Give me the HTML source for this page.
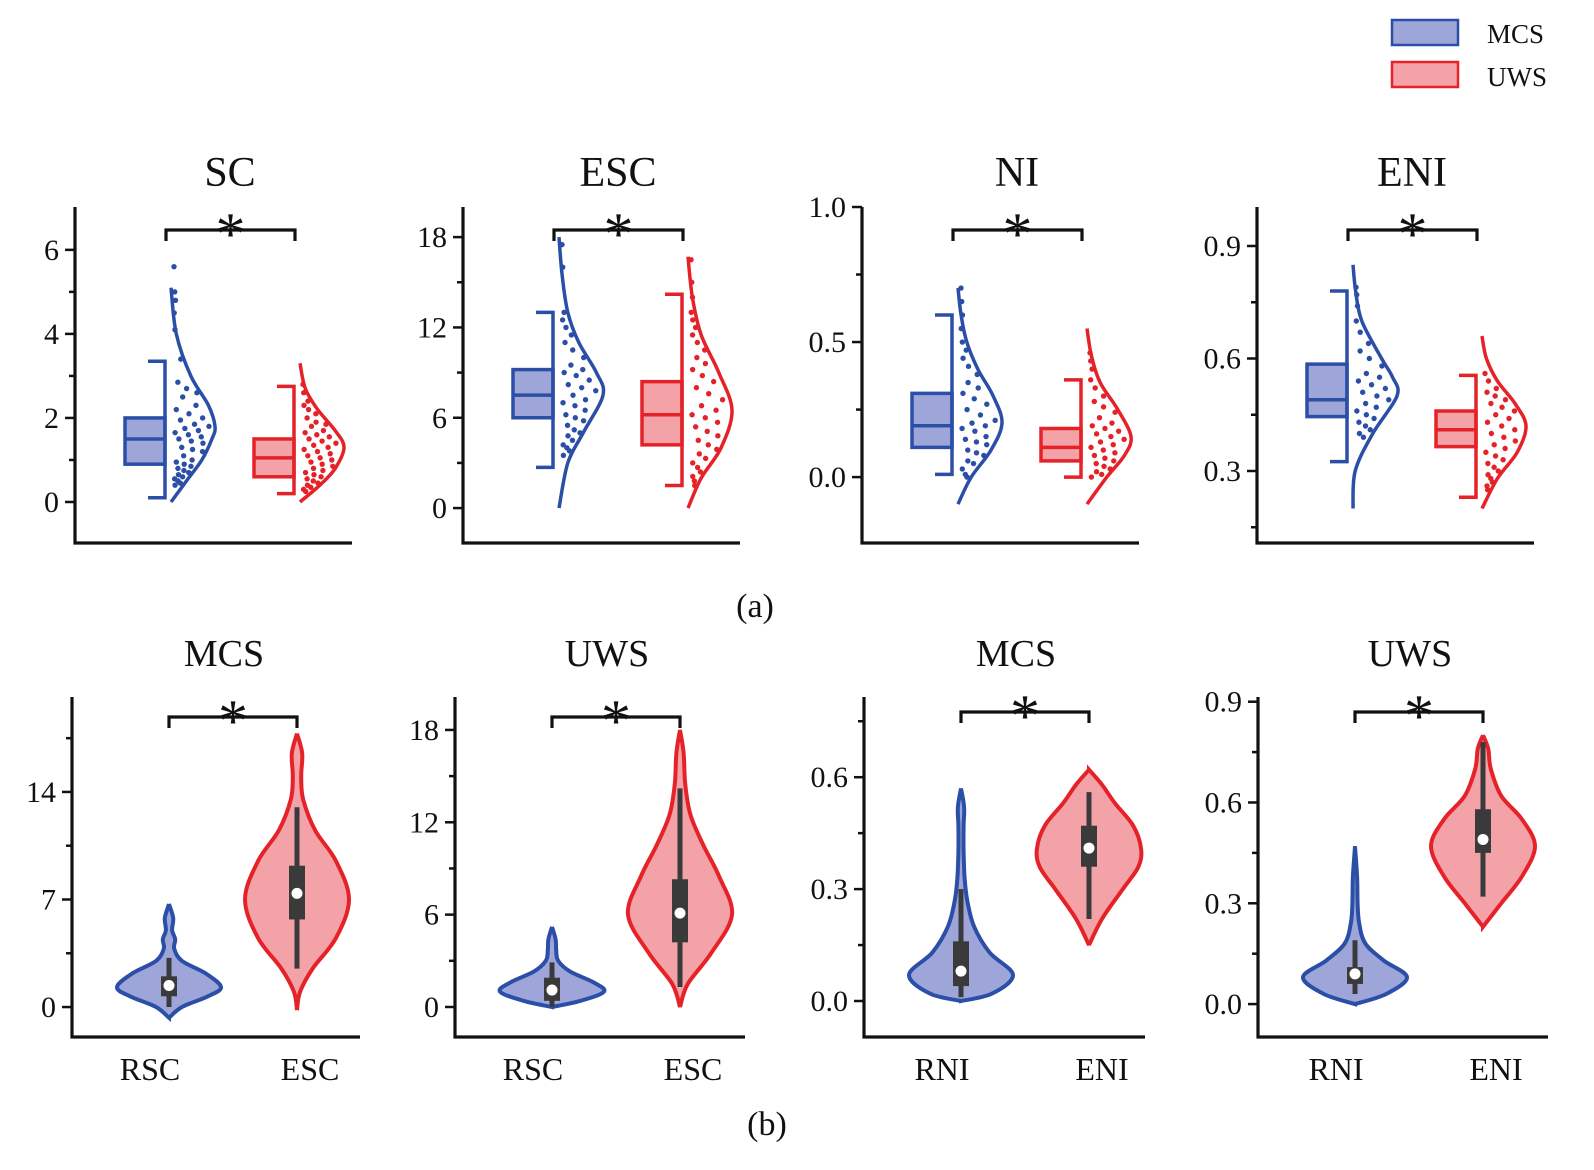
<!DOCTYPE html>
<html><head><meta charset="utf-8"><style>
html,body{margin:0;padding:0;background:#fff;}
svg{display:block;font-family:"Liberation Serif",serif;}
</style></head><body>
<svg id="fig" width="1594" height="1170" viewBox="0 0 1594 1170"></svg>
<script>
// ---------- DATA ----------
const topTitles=['SC','ESC','NI','ENI'];
const topTicks=[[0,2,4,6],[0,6,12,18],[0,0.5,1.0],[0.3,0.6,0.9]];
const topTickLabels=[['0','2','4','6'],['0','6','12','18'],['0.0','0.5','1.0'],['0.3','0.6','0.9']];
const topMinor=[[1,3,5],[3,9,15],[0.25,0.75],[0.15,0.45,0.75]];
const topDomain=[[-0.976,7.02],[-2.32,20],[-0.244,1.0],[0.108,1.004]];
const boxMCS=[[0.1,0.9,1.5,2.0,3.35],[2.7,6,7.5,9.2,13],[0.01,0.11,0.19,0.31,0.6],[0.325,0.445,0.49,0.585,0.78]];
const boxUWS=[[0.2,0.6,1.05,1.5,2.75],[1.5,4.2,6.2,8.4,14.2],[0.0,0.06,0.11,0.18,0.36],[0.23,0.365,0.41,0.46,0.555]];
const halfMCSVals=[[0,0.5,1,1.5,1.8,2.3,3,4,5.1],[0,3,5,7.5,9,11,13,15.5,18],[-0.1,0.0,0.1,0.2,0.3,0.4,0.5,0.6,0.7],[0.2,0.3,0.4,0.5,0.55,0.6,0.7,0.78,0.85]];
const halfMCSDens=[[0,0.35,0.7,0.93,1,0.85,0.45,0.12,0],[0,0.2,0.55,1,0.85,0.45,0.2,0.07,0],[0,0.3,0.75,1,0.8,0.45,0.2,0.07,0],[0,0.05,0.45,1,0.9,0.65,0.2,0.06,0]];
const halfUWSVals=[[0,0.4,0.8,1.3,1.7,2.2,2.7,3.3],[0,2,4,6.5,9,11.5,14,16.7],[-0.1,0.0,0.08,0.15,0.25,0.35,0.45,0.55],[0.2,0.28,0.35,0.42,0.48,0.54,0.6,0.66]];
const halfUWSDens=[[0,0.45,0.8,1,0.8,0.4,0.12,0],[0,0.3,0.75,1,0.7,0.3,0.1,0],[0,0.45,0.85,1,0.7,0.3,0.1,0],[0,0.35,0.8,1,0.75,0.35,0.1,0]];
const ptsMCS=[
[5.6,5.0,4.8,4.5,4.1,3.4,2.85,2.7,2.6,2.5,2.3,2.2,2.1,2.0,1.95,1.85,1.8,1.75,1.7,1.65,1.6,1.55,1.5,1.45,1.4,1.3,1.25,1.2,1.1,1.0,0.95,0.9,0.85,0.8,0.75,0.7,0.65,0.6,0.55,0.5,0.45,0.4],
[17.5,16,13,12.5,12,11.5,11,10.5,10,9.5,9.2,9,8.8,8.5,8.2,8,7.8,7.5,7.2,7,6.8,6.5,6.2,6,5.8,5.5,5.2,5,4.8,4.5,4.2,4,3.8,3.5],
[0.7,0.65,0.6,0.55,0.5,0.47,0.44,0.41,0.38,0.35,0.33,0.31,0.29,0.27,0.25,0.23,0.21,0.2,0.19,0.18,0.17,0.15,0.14,0.13,0.12,0.1,0.09,0.08,0.06,0.05,0.03,0.01,0.0],
[0.79,0.77,0.74,0.7,0.67,0.64,0.62,0.6,0.58,0.56,0.55,0.54,0.53,0.52,0.51,0.5,0.49,0.48,0.47,0.46,0.45,0.44,0.43,0.42,0.41,0.4,0.39]];
const ptsUWS=[
[2.8,2.6,2.4,2.3,2.2,2.1,2.0,1.9,1.85,1.8,1.7,1.65,1.6,1.55,1.5,1.45,1.4,1.35,1.3,1.25,1.2,1.15,1.1,1.05,1.0,0.95,0.9,0.85,0.8,0.75,0.7,0.65,0.6,0.55,0.5,0.45,0.4,0.35,0.3,0.25],
[16.5,15,14,13,12.5,12,11.5,11,10.5,10,9.6,9.2,8.8,8.4,8,7.6,7.2,6.8,6.5,6.2,6,5.7,5.4,5.1,4.8,4.5,4.2,3.9,3.6,3.3,3,2.7,2.4,2.1,1.8,1.5],
[0.46,0.43,0.4,0.36,0.33,0.3,0.28,0.26,0.24,0.22,0.2,0.19,0.18,0.17,0.16,0.15,0.14,0.13,0.12,0.11,0.1,0.09,0.08,0.07,0.06,0.05,0.04,0.03,0.02,0.01,0.0],
[0.56,0.54,0.52,0.51,0.5,0.49,0.48,0.47,0.46,0.45,0.44,0.43,0.42,0.41,0.4,0.39,0.38,0.37,0.36,0.35,0.34,0.33,0.32,0.31,0.3,0.29,0.28,0.27,0.26,0.25]];

const botTitles=['MCS','UWS','MCS','UWS'];
const botCats=[['RSC','ESC'],['RSC','ESC'],['RNI','ENI'],['RNI','ENI']];
const botTicks=[[0,7,14],[0,6,12,18],[0,0.3,0.6],[0,0.3,0.6,0.9]];
const botTickLabels=[['0','7','14'],['0','6','12','18'],['0.0','0.3','0.6'],['0.0','0.3','0.6','0.9']];
const botMinor=[[3.5,10.5,17.5],[3,9,15],[0.15,0.45,0.75],[0.15,0.45,0.75]];
const botDomain=[[-1.95,20.18],[-1.95,20.14],[-0.0965,0.815],[-0.098,0.914]];
const vA_vals=[[-0.7,0,0.7,1.3,2.2,3,3.8,4.4,5,5.8,6.7],[0,0.4,1,1.6,2.3,3,3.7,4.4,5.2],[0,0.02,0.07,0.13,0.2,0.27,0.33,0.4,0.47,0.52,0.57],[0,0.03,0.08,0.13,0.18,0.24,0.3,0.38,0.47]];
const vA_dens=[[0,0.25,0.75,1,0.7,0.25,0.1,0.12,0.06,0.08,0],[0,0.55,1,0.8,0.35,0.12,0.08,0.07,0],[0,0.6,1,0.55,0.25,0.12,0.07,0.05,0.05,0.06,0],[0,0.6,1,0.55,0.2,0.08,0.05,0.04,0]];
const vB_vals=[[-0.2,1,2.5,4.5,7,9.5,11.5,13.5,15,16.5,17.8],[0,1.5,3.5,6,8.5,10.5,12.5,14.5,16.5,18],[0.15,0.22,0.3,0.36,0.41,0.47,0.53,0.58,0.62],[0.23,0.3,0.38,0.47,0.55,0.62,0.7,0.76,0.8]];
const vB_dens=[[0,0.06,0.3,0.75,1,0.75,0.35,0.12,0.08,0.1,0],[0,0.15,0.6,1,0.75,0.45,0.2,0.1,0.07,0],[0,0.25,0.65,0.95,1,0.85,0.5,0.25,0],[0,0.35,0.75,1,0.75,0.35,0.15,0.1,0]];
const bA_stats=[[0,0.7,1.4,2.0,3.2],[0,0.4,1.1,1.9,2.9],[0.01,0.04,0.08,0.16,0.3],[0.03,0.06,0.09,0.11,0.19]];
const bB_stats=[[2.5,5.7,7.4,9.2,13],[1.3,4.2,6.1,8.3,14.2],[0.22,0.36,0.41,0.47,0.56],[0.32,0.45,0.49,0.58,0.78]];

// ---------- DRAW ----------
const NS='http://www.w3.org/2000/svg';
const svg=document.getElementById('fig');
const BLUE='#2b4ea6',BLUEF='#9ea5d8',RED='#e52228',REDF='#f3a3a8';
function el(tag,attrs,parent){const e=document.createElementNS(NS,tag);for(const k in attrs)e.setAttribute(k,attrs[k]);(parent||svg).appendChild(e);return e;}
function txt(s,x,y,size,anchor,parent){const t=el('text',{x:x,y:y,'font-size':size,'text-anchor':anchor||'middle',fill:'#111'},parent);t.textContent=s;return t;}
function smooth(p){if(p.length<2)return'';let d='M'+p[0][0]+','+p[0][1];for(let i=0;i<p.length-1;i++){const p0=p[i-1]||p[i],p1=p[i],p2=p[i+1],p3=p[i+2]||p2;const c1=[p1[0]+(p2[0]-p0[0])/6,p1[1]+(p2[1]-p0[1])/6],c2=[p2[0]-(p3[0]-p1[0])/6,p2[1]-(p3[1]-p1[1])/6];d+=' C'+c1[0].toFixed(1)+','+c1[1].toFixed(1)+' '+c2[0].toFixed(1)+','+c2[1].toFixed(1)+' '+p2[0].toFixed(1)+','+p2[1].toFixed(1);}return d;}
function interp(vals,dens,v){if(v<=vals[0])return dens[0];for(let i=0;i<vals.length-1;i++){if(v<=vals[i+1]){const t=(v-vals[i])/(vals[i+1]-vals[i]);return dens[i]+t*(dens[i+1]-dens[i]);}}return dens[dens.length-1];}
function makeY(dom,bot,top){return v=>bot-(v-dom[0])/(dom[1]-dom[0])*(bot-top);}
function axes(g,ax,top,bot,right,y,ticks,labels,minor){
  el('line',{x1:ax,y1:top,x2:ax,y2:bot+1.5,stroke:'#111','stroke-width':3.2},g);
  el('line',{x1:ax-1.5,y1:bot,x2:right,y2:bot,stroke:'#111','stroke-width':3.2},g);
  ticks.forEach((v,i)=>{el('line',{x1:ax-10,y1:y(v),x2:ax,y2:y(v),stroke:'#111','stroke-width':2.5},g);const t=txt(labels[i],ax-16,y(v)+10,30,'end',g);});
  minor.forEach(v=>{el('line',{x1:ax-6,y1:y(v),x2:ax,y2:y(v),stroke:'#111','stroke-width':2.5},g);});
}
function sig(g,x1,x2,yb){el('path',{d:`M${x1},${yb+11}V${yb}H${x2}V${yb+11}`,fill:'none',stroke:'#111','stroke-width':3.2},g);const s=txt('*',(x1+x2)/2,yb+24,60,'middle',g);}

const topAx=[75,463,862,1257];
for(let p=0;p<4;p++){
  const g=el('g',{});
  const ax=topAx[p],top=207,bot=543,right=ax+277;
  const y=makeY(topDomain[p],bot,top);
  axes(g,ax,top,bot,right,y,topTicks[p],topTickLabels[p],topMinor[p]);
  const t=txt(topTitles[p],ax+155,186,42,'middle',g);
  const groups=[[boxMCS[p],halfMCSVals[p],halfMCSDens[p],ptsMCS[p],BLUE,BLUEF,ax+50],[boxUWS[p],halfUWSVals[p],halfUWSDens[p],ptsUWS[p],RED,REDF,ax+179]];
  groups.forEach((gr,gi)=>{
    const [st,vv,dd,pts,sc,fc,bx]=gr;const bw=40,vx=bx+bw+6,W=44;
    const gg=el('g',{},g);
    el('rect',{x:bx,y:y(st[3]),width:bw,height:y(st[1])-y(st[3]),fill:fc,stroke:sc,'stroke-width':3.5},gg);
    el('line',{x1:bx,y1:y(st[2]),x2:bx+bw,y2:y(st[2]),stroke:sc,'stroke-width':3.5},gg);
    el('path',{d:`M${bx+bw-17},${y(st[4])}H${bx+bw}V${y(st[0])}H${bx+bw-17}`,fill:'none',stroke:sc,'stroke-width':3.5},gg);
    const cp=vv.map((v,i)=>[vx+dd[i]*W,y(v)]);
    el('path',{d:smooth(cp),fill:'none',stroke:sc,'stroke-width':3.5},gg);
    pts.forEach((v,i)=>{const w=Math.max(2,interp(vv,dd,v)*W-6);const f=((i*37)%100)/100;const c=el('circle',{cx:vx+3+f*w,cy:y(v),r:2.7,fill:sc},gg);});
  });
  sig(g,ax+91,ax+220,230);
}
const aT=txt('(a)',755,617,34);

const botAx=[72,455,864,1258];
const botRight=[360,745,1145,1548];
for(let p=0;p<4;p++){
  const g=el('g',{});
  const ax=botAx[p],top=697,bot=1037;
  const y=makeY(botDomain[p],bot,top);
  axes(g,ax,top,bot,botRight[p],y,botTicks[p],botTickLabels[p],botMinor[p]);
  const t=txt(botTitles[p],ax+152,666,38,'middle',g);
  const sets=[[vA_vals[p],vA_dens[p],bA_stats[p],BLUE,BLUEF,ax+97],[vB_vals[p],vB_dens[p],bB_stats[p],RED,REDF,ax+225]];
  sets.forEach((s,si)=>{
    const [vv,dd,st,sc,fc,cx]=s;const W=52;
    const gg=el('g',{},g);
    const right=vv.map((v,i)=>[cx+dd[i]*W,y(v)]);
    const left=vv.map((v,i)=>[cx-dd[i]*W,y(v)]).reverse();
    el('path',{d:smooth(right)+' '+smooth(left).replace('M','L')+'Z',fill:fc,stroke:sc,'stroke-width':4},gg);
    el('line',{x1:cx,y1:y(st[0]),x2:cx,y2:y(st[4]),stroke:'#3a3a3a','stroke-width':5},gg);
    el('rect',{x:cx-8,y:y(st[3]),width:16,height:y(st[1])-y(st[3]),fill:'#3a3a3a'},gg);
    el('circle',{cx:cx,cy:y(st[2]),r:5.5,fill:'#fff'},gg);
    const l=txt(botCats[p][si],ax+(si?238:78),1080,32,'middle',g);
  });
  sig(g,ax+97,ax+225,p>=2?712:717);
}
const bT=txt('(b)',767,1135,34);

// legend
const lg=el('g',{});
const l1=el('rect',{x:1392,y:20,width:66,height:25,fill:BLUEF,stroke:BLUE,'stroke-width':2.5},lg);
const t1=txt('MCS',1487,43,27,'start',lg);
const l2=el('rect',{x:1392,y:62,width:66,height:25,fill:REDF,stroke:RED,'stroke-width':2.5},lg);
const t2=txt('UWS',1487,86,27,'start',lg);
</script>
</body></html>
